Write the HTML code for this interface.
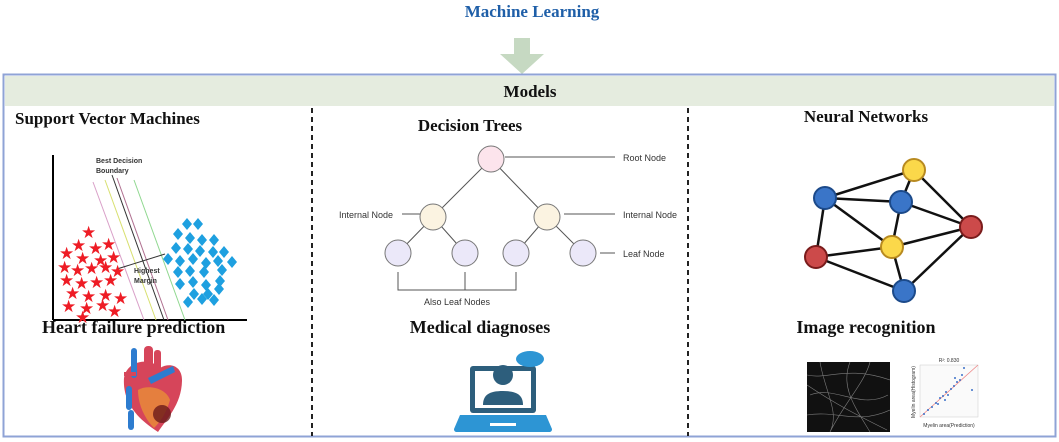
<!DOCTYPE html>
<html><head><meta charset="utf-8"><style>
html,body{margin:0;padding:0;background:#fff;width:1059px;height:442px;overflow:hidden}
svg{display:block}
.t{font-family:"Liberation Serif",serif;font-weight:bold;fill:#111}
.s{font-family:"Liberation Sans",sans-serif;fill:#333}
</style></head><body>
<svg width="1059" height="442" viewBox="0 0 1059 442">
<text x="532" y="17" text-anchor="middle" class="t" style="fill:#1f5fa8;font-size:17px">Machine Learning</text>
<polygon points="514,38 530,38 530,54 544,54 522,74 500,54 514,54" fill="#c6d9c2"/>
<rect x="3.5" y="74.5" width="1052" height="362" fill="none" stroke="#8fa3d6" stroke-width="2"/>
<rect x="5" y="76" width="1049" height="30" fill="#e5ecdf"/>
<text x="530" y="97" text-anchor="middle" class="t" style="font-size:17px">Models</text>
<line x1="312" y1="108" x2="312" y2="436" stroke="#222" stroke-width="2" stroke-dasharray="5,4"/>
<line x1="688" y1="108" x2="688" y2="436" stroke="#222" stroke-width="2" stroke-dasharray="5,4"/>
<text x="15" y="124" class="t" style="font-size:17px">Support Vector Machines</text>
<text x="470" y="131" text-anchor="middle" class="t" style="font-size:17px">Decision Trees</text>
<text x="866" y="122" text-anchor="middle" class="t" style="font-size:17px">Neural Networks</text>
<!-- SVM -->
<line x1="53" y1="155" x2="53" y2="320" stroke="#000" stroke-width="2"/>
<line x1="53" y1="320" x2="247" y2="320" stroke="#000" stroke-width="2"/>
<line x1="93" y1="182" x2="144" y2="320" stroke="#d9a0c8"/>
<line x1="105" y1="180" x2="156" y2="320" stroke="#d8e070"/>
<line x1="112" y1="175" x2="164" y2="320" stroke="#333"/>
<line x1="117" y1="178" x2="168" y2="320" stroke="#b07090"/>
<line x1="134" y1="180" x2="185" y2="320" stroke="#90d890"/>
<line x1="117" y1="269" x2="165" y2="254" stroke="#333"/>
<text x="96" y="163" class="s" style="font-size:7px;font-weight:bold">Best Decision</text>
<text x="96" y="173" class="s" style="font-size:7px;font-weight:bold">Boundary</text>
<text x="134" y="273" class="s" style="font-size:7px;font-weight:bold">Highest</text>
<text x="134" y="283" class="s" style="font-size:7px;font-weight:bold">Margin</text>
<g fill="#ee1c25" font-size="17" font-family="DejaVu Sans">
<text x="81" y="238">★</text><text x="71" y="251">★</text><text x="88" y="254">★</text><text x="101" y="250">★</text><text x="59" y="259">★</text><text x="75" y="264">★</text><text x="93" y="266">★</text><text x="106" y="263">★</text><text x="57" y="273">★</text><text x="70" y="276">★</text><text x="84" y="274">★</text><text x="98" y="273">★</text><text x="110" y="277">★</text><text x="59" y="286">★</text><text x="74" y="289">★</text><text x="89" y="288">★</text><text x="103" y="286">★</text><text x="65" y="299">★</text><text x="81" y="302">★</text><text x="98" y="301">★</text><text x="113" y="304">★</text><text x="61" y="312">★</text><text x="79" y="314">★</text><text x="95" y="311">★</text><text x="107" y="317">★</text><text x="75" y="323">★</text>
</g>
<g fill="#1ea0e0">
<path d="M187 218l5 6-5 6-5-6z M198 218l5 6-5 6-5-6z M178 228l5 6-5 6-5-6z M190 232l5 6-5 6-5-6z M202 234l5 6-5 6-5-6z M214 234l5 6-5 6-5-6z M176 242l5 6-5 6-5-6z M188 243l5 6-5 6-5-6z M200 245l5 6-5 6-5-6z M213 246l5 6-5 6-5-6z M224 246l5 6-5 6-5-6z M168 253l5 6-5 6-5-6z M180 255l5 6-5 6-5-6z M193 253l5 6-5 6-5-6z M206 257l5 6-5 6-5-6z M218 255l5 6-5 6-5-6z M232 256l5 6-5 6-5-6z M178 266l5 6-5 6-5-6z M190 265l5 6-5 6-5-6z M204 266l5 6-5 6-5-6z M222 264l5 6-5 6-5-6z M180 278l5 6-5 6-5-6z M193 276l5 6-5 6-5-6z M206 279l5 6-5 6-5-6z M220 275l5 6-5 6-5-6z M194 288l5 6-5 6-5-6z M208 288l5 6-5 6-5-6z M219 283l5 6-5 6-5-6z M188 296l5 6-5 6-5-6z M202 293l5 6-5 6-5-6z M214 294l5 6-5 6-5-6z"/>
</g>
<text x="42" y="333" class="t" style="font-size:18px">Heart failure prediction</text>
<!-- heart -->
<g>
<path d="M124 378c2-16 24-22 36-10 10-6 22-2 22 12 0 24-16 40-24 52-12-8-36-24-34-54z" fill="#d6455a"/>
<path d="M138 390c10-6 28-2 32 10-4 14-10 22-16 28-8-8-16-22-16-38z" fill="#e88a3a" opacity=".85"/>
<circle cx="162" cy="414" r="9" fill="#6a1a1a" opacity=".8"/>
<rect x="131" y="348" width="6" height="30" rx="3" fill="#2d7ccf"/>
<rect x="144" y="346" width="9" height="26" rx="4" fill="#d6455a"/>
<rect x="154" y="350" width="7" height="22" rx="3" fill="#d6455a"/>
<path d="M148 378l25-12 2 6-24 12z" fill="#2d7ccf"/>
<rect x="124" y="372" width="12" height="4" fill="#d6455a"/>
<rect x="124" y="380" width="12" height="4" fill="#d6455a"/>
<rect x="126" y="386" width="6" height="24" rx="3" fill="#2d7ccf"/>
<rect x="128" y="410" width="6" height="20" rx="3" fill="#2d7ccf"/>
</g>
<!-- Decision tree -->
<g stroke="#555" stroke-width="1" fill="none">
<line x1="491" y1="159" x2="433" y2="217"/><line x1="491" y1="159" x2="547" y2="217"/>
<line x1="433" y1="217" x2="398" y2="253"/><line x1="433" y1="217" x2="465" y2="253"/>
<line x1="547" y1="217" x2="516" y2="253"/><line x1="547" y1="217" x2="583" y2="253"/>
<line x1="505" y1="157" x2="615" y2="157"/>
<line x1="402" y1="214" x2="420" y2="214"/><line x1="564" y1="214" x2="615" y2="214"/>
<line x1="600" y1="253" x2="615" y2="253"/>
<path d="M398 272V290H516V272M465 272V290"/>
</g>
<g stroke="#777" stroke-width="1">
<circle cx="491" cy="159" r="13" fill="#fce4ec"/>
<circle cx="433" cy="217" r="13" fill="#fbf3e1"/>
<circle cx="547" cy="217" r="13" fill="#fbf3e1"/>
<circle cx="398" cy="253" r="13" fill="#ebe8f9"/>
<circle cx="465" cy="253" r="13" fill="#ebe8f9"/>
<circle cx="516" cy="253" r="13" fill="#ebe8f9"/>
<circle cx="583" cy="253" r="13" fill="#ebe8f9"/>
</g>
<g class="s" style="font-size:9px">
<text x="623" y="161">Root Node</text>
<text x="339" y="218">Internal Node</text>
<text x="623" y="218">Internal Node</text>
<text x="623" y="257">Leaf Node</text>
<text x="457" y="305" text-anchor="middle">Also Leaf Nodes</text>
</g>
<text x="480" y="333" text-anchor="middle" class="t" style="font-size:18px">Medical diagnoses</text>
<!-- laptop -->
<rect x="470" y="366" width="66" height="47" rx="3" fill="#2d5e7c"/>
<rect x="475" y="371" width="56" height="37" fill="#fff"/>
<path d="M483 405c0-10 6-14 20-14s20 4 20 14z" fill="#2d5e7c"/>
<circle cx="503" cy="375" r="10" fill="#2d5e7c"/>
<ellipse cx="530" cy="359" rx="14" ry="8" fill="#2d95d4"/>
<path d="M460 415h86l6 14c0 2-1 3-3 3h-92c-2 0-3-1-3-3z" fill="#2d95d4"/>
<rect x="490" y="423" width="26" height="3" fill="#fff"/>
<!-- neural network -->
<g stroke="#111" stroke-width="2.5">
<line x1="914" y1="170" x2="825" y2="198"/><line x1="914" y1="170" x2="901" y2="202"/><line x1="914" y1="170" x2="971" y2="227"/>
<line x1="825" y1="198" x2="901" y2="202"/><line x1="825" y1="198" x2="892" y2="247"/><line x1="825" y1="198" x2="816" y2="257"/>
<line x1="901" y1="202" x2="892" y2="247"/><line x1="901" y1="202" x2="971" y2="227"/>
<line x1="892" y1="247" x2="971" y2="227"/><line x1="892" y1="247" x2="816" y2="257"/><line x1="892" y1="247" x2="904" y2="291"/>
<line x1="816" y1="257" x2="904" y2="291"/><line x1="904" y1="291" x2="971" y2="227"/>
</g>
<g stroke-width="2">
<circle cx="914" cy="170" r="11" fill="#fbd84a" stroke="#b88a20"/>
<circle cx="825" cy="198" r="11" fill="#3a75c8" stroke="#1c4a8a"/>
<circle cx="901" cy="202" r="11" fill="#3a75c8" stroke="#1c4a8a"/>
<circle cx="971" cy="227" r="11" fill="#cc4a4a" stroke="#7a1c1c"/>
<circle cx="892" cy="247" r="11" fill="#fbd84a" stroke="#b88a20"/>
<circle cx="816" cy="257" r="11" fill="#cc4a4a" stroke="#7a1c1c"/>
<circle cx="904" cy="291" r="11" fill="#3a75c8" stroke="#1c4a8a"/>
</g>
<text x="866" y="333" text-anchor="middle" class="t" style="font-size:18px">Image recognition</text>
<rect x="807" y="362" width="83" height="70" fill="#111"/>
<g stroke="#999" stroke-width=".6" fill="none" opacity=".8">
<path d="M807 375c20 5 40-10 83 5M810 395c25-10 50 15 78 0M820 362c5 30 20 50 10 70M850 362c-10 25 5 45 20 70M807 415c30-5 50 10 83-5M870 362c-5 20-25 40-40 70M807 385c30 20 50 30 80 45"/>
</g>
<rect x="920" y="365" width="58" height="52" fill="#fafafa" stroke="#ccc" stroke-width=".5"/>
<line x1="920" y1="417" x2="978" y2="365" stroke="#e88" stroke-width=".8"/>
<g fill="#3a6fc8">
<circle cx="924" cy="414" r="1"/><circle cx="928" cy="410" r="1"/><circle cx="932" cy="407" r="1"/><circle cx="936" cy="403" r="1"/><circle cx="940" cy="398" r="1"/><circle cx="943" cy="396" r="1"/><circle cx="946" cy="392" r="1"/><circle cx="948" cy="395" r="1"/><circle cx="951" cy="389" r="1"/><circle cx="954" cy="386" r="1"/><circle cx="957" cy="382" r="1"/><circle cx="960" cy="380" r="1"/><circle cx="955" cy="378" r="1"/><circle cx="962" cy="375" r="1"/><circle cx="964" cy="368" r="1"/><circle cx="972" cy="390" r="1"/><circle cx="945" cy="400" r="1"/><circle cx="938" cy="404" r="1"/>
</g>
<text x="949" y="362" text-anchor="middle" class="s" style="font-size:5px">R²: 0.830</text>
<text x="949" y="427" text-anchor="middle" class="s" style="font-size:5px">Myelin area(Prediction)</text>
<text x="915" y="392" text-anchor="middle" class="s" style="font-size:5px" transform="rotate(-90 915 392)">Myelin area(Histogram)</text>
</svg>
</body></html>
